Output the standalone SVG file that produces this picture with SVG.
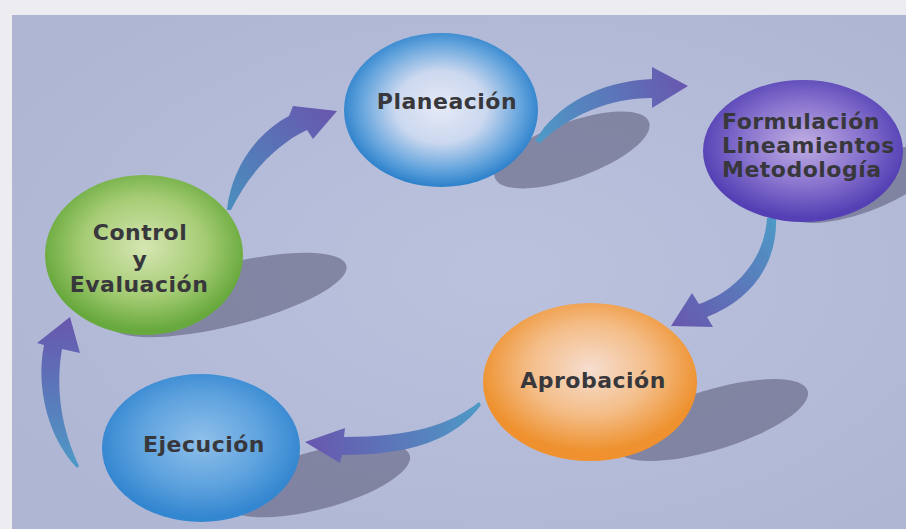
<svg xmlns="http://www.w3.org/2000/svg" width="906" height="529" viewBox="0 0 906 529">
<defs>
<style>
.lbl{font-family:"DejaVu Sans","Liberation Sans",sans-serif;font-weight:bold;font-size:22px;fill:#38383c;letter-spacing:0.5px;text-anchor:middle}
.lbl-l{text-anchor:start}
.shadow{fill:#4e4d6c;opacity:0.5}
</style>
<radialGradient id="bg" cx="55%" cy="50%" r="65%">
<stop offset="0" stop-color="#bbc2de"/><stop offset="1" stop-color="#afb6d4"/>
</radialGradient>
<radialGradient id="gPlan" cx="50%" cy="48%" r="52%">
<stop offset="0" stop-color="#e6eaf7"/><stop offset="0.45" stop-color="#cbd8ef"/><stop offset="0.8" stop-color="#62a3dc"/><stop offset="1" stop-color="#2b80cb"/>
</radialGradient>
<radialGradient id="gForm" cx="50%" cy="45%" r="52%">
<stop offset="0" stop-color="#c0aee2"/><stop offset="0.55" stop-color="#8a75cf"/><stop offset="1" stop-color="#5440b4"/>
</radialGradient>
<radialGradient id="gCtrl" cx="50%" cy="45%" r="52%">
<stop offset="0" stop-color="#d6e6b2"/><stop offset="0.6" stop-color="#a5cc74"/><stop offset="1" stop-color="#68a93d"/>
</radialGradient>
<radialGradient id="gApro" cx="50%" cy="42%" r="52%">
<stop offset="0" stop-color="#f6ded0"/><stop offset="0.55" stop-color="#f4bd88"/><stop offset="1" stop-color="#ee912e"/>
</radialGradient>
<radialGradient id="gEjec" cx="50%" cy="45%" r="52%">
<stop offset="0" stop-color="#8fc0ea"/><stop offset="0.6" stop-color="#5ea2de"/><stop offset="1" stop-color="#3386d0"/>
</radialGradient>
<linearGradient id="aA" gradientUnits="userSpaceOnUse" x1="228" y1="210" x2="337" y2="111">
<stop offset="0" stop-color="#4a8fbe"/><stop offset="1" stop-color="#6856ae"/>
</linearGradient>
<linearGradient id="aB" gradientUnits="userSpaceOnUse" x1="537" y1="140" x2="688" y2="86">
<stop offset="0" stop-color="#4d9ac6"/><stop offset="1" stop-color="#6856ae"/>
</linearGradient>
<linearGradient id="aC" gradientUnits="userSpaceOnUse" x1="772" y1="216" x2="671" y2="326">
<stop offset="0" stop-color="#4d9ac6"/><stop offset="1" stop-color="#6856ae"/>
</linearGradient>
<linearGradient id="aD" gradientUnits="userSpaceOnUse" x1="480" y1="403" x2="305" y2="442">
<stop offset="0" stop-color="#4d9ac6"/><stop offset="1" stop-color="#6856ae"/>
</linearGradient>
<linearGradient id="aE" gradientUnits="userSpaceOnUse" x1="78" y1="467" x2="70" y2="317">
<stop offset="0" stop-color="#4d9ac6"/><stop offset="1" stop-color="#6856ae"/>
</linearGradient>
</defs>

<rect x="0" y="0" width="906" height="529" fill="#ececf1"/>
<rect x="12" y="15" width="894" height="514" fill="url(#bg)"/>

<g id="shadows">
<ellipse class="shadow" cx="572" cy="150" rx="82" ry="28" transform="rotate(-20 572 150)"/>
<ellipse class="shadow" cx="860" cy="185" rx="80" ry="28" transform="rotate(-20 860 185)"/>
<ellipse class="shadow" cx="228" cy="295" rx="122" ry="31" transform="rotate(-14 228 295)"/>
<ellipse class="shadow" cx="712" cy="420" rx="100" ry="30" transform="rotate(-17 712 420)"/>
<ellipse class="shadow" cx="318" cy="480" rx="95" ry="29" transform="rotate(-15 318 480)"/>
</g>

<g id="connectors">
<path fill="url(#aA)" d="M 227 210 C 231 170, 255 134, 289 116 L 293 106 L 337 111 L 313 139 L 307 130 C 275 145, 248 175, 231 210 Z"/>
<path fill="url(#aB)" d="M 535 141 C 556 105, 600 81, 652 79 L 652 67 L 688 86 L 652 108 L 652 98 C 610 98, 570 115, 540 143 Z"/>
<path fill="url(#aC)" d="M 767 218 C 765 255, 740 290, 699 304 L 692 293 L 671 326 L 713 327 L 707 317 C 755 298, 778 260, 776 216 Z"/>
<path fill="url(#aD)" d="M 479 402 C 450 425, 410 437, 344 437 L 345 428 L 305 442 L 340 463 L 342 455 C 410 455, 455 440, 481 405 Z"/>
<path fill="url(#aE)" d="M 77 468 C 50 440, 35 390, 44 345 L 37 343 L 70 317 L 80 353 L 62 349 C 55 390, 62 430, 79 466 Z"/>
</g>

<g id="node-planeacion">
<ellipse cx="441" cy="110" rx="97" ry="77" fill="url(#gPlan)"/>
<text class="lbl" x="447" y="109">Planeación</text>
</g>

<g id="node-formulacion">
<ellipse cx="803" cy="151" rx="100" ry="71" fill="url(#gForm)"/>
<text class="lbl lbl-l" x="722" y="129">Formulación</text>
<text class="lbl lbl-l" x="722" y="153">Lineamientos</text>
<text class="lbl lbl-l" x="722" y="177">Metodología</text>
</g>

<g id="node-control">
<ellipse cx="144" cy="255" rx="99" ry="80" fill="url(#gCtrl)"/>
<text class="lbl" x="140" y="240">Control</text>
<text class="lbl" x="140" y="267">y</text>
<text class="lbl" x="139" y="292">Evaluación</text>
</g>

<g id="node-aprobacion">
<ellipse cx="590" cy="382" rx="107" ry="79" fill="url(#gApro)"/>
<text class="lbl" x="593" y="388">Aprobación</text>
</g>

<g id="node-ejecucion">
<ellipse cx="201" cy="448" rx="99" ry="74" fill="url(#gEjec)"/>
<text class="lbl" x="204" y="452">Ejecución</text>
</g>
</svg>
